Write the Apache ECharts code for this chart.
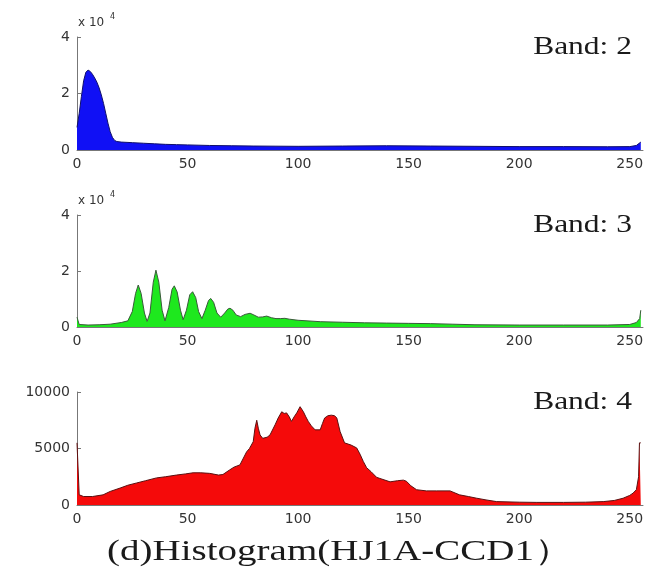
<!DOCTYPE html>
<html>
<head>
<meta charset="utf-8">
<script src="https://cdn.jsdelivr.net/npm/echarts@6/dist/echarts.min.js"></script>
<style>html,body{margin:0;padding:0;background:#fff}#c{width:658px;height:573px}</style>
</head>
<body>
<div id="c"></div>
<script>
// ---- data: [grey level, pixel count] ----
const band2Points = [[0,8000],[1,13000],[2,19000],[3,24500],[4,27500],[5,28300],[6,27800],[7,26800],[8,25500],[9,24000],[10,22000],[11,19500],[12,16500],[13,13000],[14,9500],[15,6500],[16,4500],[17,3400],[18,3000],[20,2800],[25,2600],[30,2400],[35,2200],[40,2000],[45,1900],[50,1800],[60,1600],[70,1500],[80,1400],[90,1350],[100,1300],[120,1400],[140,1500],[160,1400],[180,1300],[200,1200],[220,1200],[240,1150],[250,1200],[253,1600],[255,2800]];
const band3Points = [[0,3500],[1,900],[5,700],[10,800],[15,1000],[20,1600],[23,2200],[25,5500],[26.5,12000],[27.7,15000],[29,12000],[30.5,5000],[31.7,2000],[33,5000],[34.5,16000],[35.7,20300],[37,16000],[38.5,6000],[39.8,2200],[41.5,7000],[43,13500],[44,14700],[45.3,12500],[46.8,6000],[48,2600],[49.5,6000],[51,11500],[52.3,12600],[53.7,10500],[55,5500],[56.5,3000],[58,6000],[59.5,9500],[60.5,10200],[61.8,8800],[63.3,5000],[65,3500],[66.8,5000],[68.2,6400],[69.2,6700],[70.5,6000],[72,4300],[74,3700],[76,4500],[78.3,4900],[80,4300],[82,3500],[84,3600],[85.8,3900],[88,3300],[90,3000],[92,3000],[94,3100],[96,2800],[100,2400],[110,1900],[120,1700],[130,1500],[140,1400],[150,1300],[160,1200],[170,1000],[180,800],[200,700],[220,700],[240,700],[250,900],[253,1600],[254.5,3000],[255,6000]];
const band4Points = [[0,5500],[1,900],[3,750],[7,750],[11.8,900],[15,1200],[19.5,1500],[23,1750],[27,1950],[31,2150],[36,2400],[40,2500],[45,2650],[49,2750],[52.5,2850],[56,2850],[60,2800],[64,2650],[66,2700],[69,3100],[71,3350],[73.7,3550],[76.7,4700],[78,5000],[79.7,5600],[80.5,6800],[81.3,7500],[82,6800],[82.8,6200],[84,5900],[86,6000],[87.3,6200],[89.6,7100],[91,7700],[92.6,8250],[93.7,8100],[94.8,8150],[96,7800],[97,7400],[98.2,7800],[99.4,8150],[100.9,8700],[102.4,8250],[103.5,7800],[104.6,7400],[106,7000],[107.7,6650],[110,6650],[111,7200],[112,7700],[113.5,7900],[115,7950],[116.5,7900],[117.5,7700],[119,6500],[121,5500],[124,5300],[126.5,5050],[128,4500],[129.5,3850],[131,3300],[133,2950],[135.5,2450],[137,2350],[141.6,2050],[145,2150],[147.6,2200],[149,2100],[151,1700],[153.6,1350],[158,1250],[162.7,1250],[168.7,1250],[173,900],[177,750],[180.8,600],[185,450],[189.8,300],[200,250],[208,230],[220,230],[230,250],[238,300],[243,400],[247,600],[250,850],[251.5,1050],[253,1350],[254,2500],[254.4,5500],[255,5500]];

const bandLabels = ['Band: 2', 'Band: 3', 'Band: 4'];
const yMaxes = [40000, 40000, 10000];
const yIntervals = [20000, 20000, 5000];
const yDivisors = [10000, 10000, 1];
const exponentText = 'x 10';
const exponentPower = '4';
const xMin = 0, xMax = 256, xInterval = 50;
const chartTitle = '(d)Histogram(HJ1A-CCD1）';

const seriesPoints = [band2Points, band3Points, band4Points];
const fillColors = ['#1010f5', '#1ee81e', '#f50a0a'];
const edgeColors = ['#10106a', '#3a5a3a', '#5a1010'];
const gridTops = [37, 215, 392];
const gridHeights = [113, 112, 113];

const chart = echarts.init(document.getElementById('c'), null, {renderer: 'canvas'});

const grids = [], xAxes = [], yAxes = [], series = [], graphics = [];
for (let i = 0; i < 3; i++) {
  grids.push({left: 77, top: gridTops[i], width: 566, height: gridHeights[i], containLabel: false});
  xAxes.push({
    type: 'value', gridIndex: i, min: xMin, max: xMax, interval: xInterval,
    axisLine: {show: true, onZero: false, lineStyle: {color: '#777', width: 1}},
    axisTick: {show: false},
    splitLine: {show: false},
    axisLabel: {color: '#333', fontFamily: 'DejaVu Sans', fontSize: 14, margin: 7, showMaxLabel: false}
  });
  const div = yDivisors[i];
  yAxes.push({
    type: 'value', gridIndex: i, min: 0, max: yMaxes[i], interval: yIntervals[i],
    axisLine: {show: true, lineStyle: {color: '#777', width: 1}},
    axisTick: {show: true, inside: true, length: 4, lineStyle: {color: '#777'}},
    splitLine: {show: false},
    axisLabel: {color: '#333', fontFamily: 'DejaVu Sans', fontSize: 14, margin: 7,
      formatter: v => String(v / div)}
  });
  series.push({
    type: 'line', xAxisIndex: i, yAxisIndex: i, data: seriesPoints[i],
    showSymbol: false, symbol: 'none', silent: true,
    lineStyle: {color: edgeColors[i], width: 1},
    areaStyle: {color: fillColors[i], opacity: 1}
  });
  graphics.push({
    type: 'text', x: 632, y: gridTops[i] + 10, scaleX: 1.26, scaleY: 1,
    style: {text: bandLabels[i], fill: '#1a1a1a', font: '25px "Liberation Serif"',
      textAlign: 'right', textVerticalAlign: 'middle'}
  });
}
for (let i = 0; i < 2; i++) {
  graphics.push({
    type: 'text', x: 78, y: gridTops[i] - 14,
    style: {text: exponentText, fill: '#333', font: '12px "DejaVu Sans"', textAlign: 'left', textVerticalAlign: 'middle'}
  });
  graphics.push({
    type: 'text', x: 110, y: gridTops[i] - 20,
    style: {text: exponentPower, fill: '#333', font: '8px "DejaVu Sans"', textAlign: 'left', textVerticalAlign: 'middle'}
  });
}
graphics.push({
  type: 'text', x: 340, y: 552, scaleX: 1.3, scaleY: 1,
  style: {text: chartTitle, fill: '#1a1a1a', font: '30px "Liberation Serif"', textAlign: 'center', textVerticalAlign: 'middle'}
});

chart.setOption({
  animation: false,
  backgroundColor: '#fff',
  grid: grids, xAxis: xAxes, yAxis: yAxes, series: series,
  graphic: graphics
});
</script>
</body>
</html>
